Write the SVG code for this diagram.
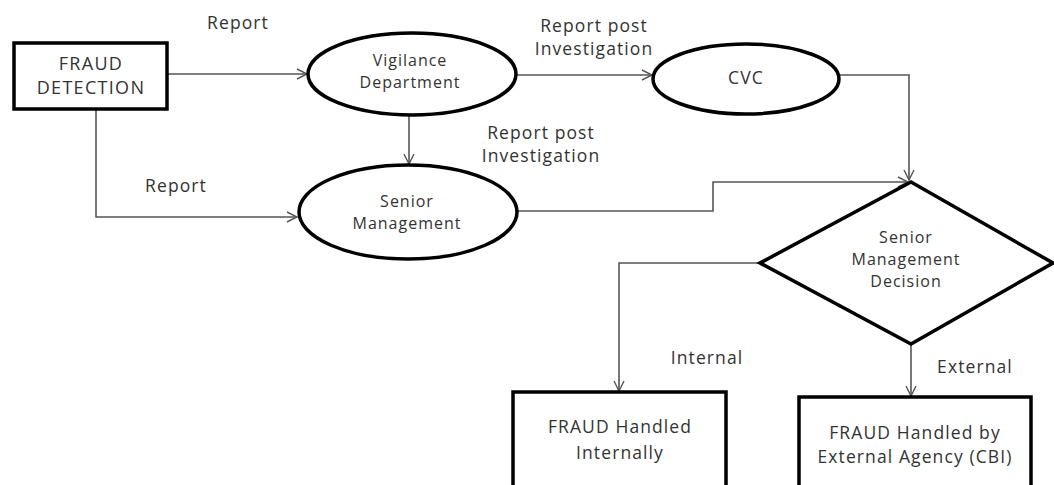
<svg xmlns="http://www.w3.org/2000/svg" width="1054" height="485" viewBox="0 0 1054 485">
<style>
.shape{fill:#fff;stroke:#000;stroke-width:3.5}
.conn{fill:none;stroke:#555;stroke-width:1.6}
text{font-family:"Open Sans","Liberation Sans",sans-serif;fill:#333;text-anchor:middle;dominant-baseline:central;font-size:17.5px;letter-spacing:1.1px}
.mid{font-size:16px;letter-spacing:1px}
.big{font-size:18px;letter-spacing:1.3px}
</style>
<defs>
<marker id="arr" viewBox="0 0 12 12" refX="11" refY="6" markerWidth="12" markerHeight="12" markerUnits="userSpaceOnUse" orient="auto">
<path d="M1,1 L11,6 L1,11" fill="none" stroke="#555" stroke-width="1.4"/>
</marker>
</defs>
<rect width="1054" height="485" fill="#fff"/>
<g id="connectors">
<path class="conn" d="M167,74 H307" marker-end="url(#arr)"/>
<path class="conn" d="M96,109 V217 H297" marker-end="url(#arr)"/>
<path class="conn" d="M517,75 H652" marker-end="url(#arr)"/>
<path class="conn" d="M409,115 V164" marker-end="url(#arr)"/>
<path class="conn" d="M840,75 H909 V180" marker-end="url(#arr)"/>
<path class="conn" d="M517,211 H713 V182 H908" marker-end="url(#arr)"/>
<path class="conn" d="M760,263 H619 V391" marker-end="url(#arr)"/>
<path class="conn" d="M911,344 V396" marker-end="url(#arr)"/>
</g>
<g id="labels">
<text x="238" y="22">Report</text>
<text x="176" y="185">Report</text>
<text x="594" y="25">Report post</text>
<text x="594" y="48">Investigation</text>
<text x="541" y="132">Report post</text>
<text x="541" y="155">Investigation</text>
<text x="707" y="357">Internal</text>
<text x="975" y="366">External</text>
</g>
<g id="fraud-detection">
<rect class="shape" x="14" y="43" width="153" height="66"/>
<text class="big" x="91" y="63">FRAUD</text>
<text class="big" x="91" y="87">DETECTION</text>
</g>
<g id="vigilance">
<ellipse class="shape" cx="412" cy="74" rx="104" ry="41"/>
<text class="mid" x="410" y="60">Vigilance</text>
<text class="mid" x="410" y="82">Department</text>
</g>
<g id="cvc">
<ellipse class="shape" cx="746" cy="79" rx="93" ry="35"/>
<text x="746" y="77">CVC</text>
</g>
<g id="senior-management">
<ellipse class="shape" cx="408" cy="212" rx="109" ry="47"/>
<text class="mid" x="407" y="201">Senior</text>
<text class="mid" x="407" y="223">Management</text>
</g>
<g id="decision">
<polygon class="shape" points="911,182 1053,263 911,344 760,263"/>
<text class="mid" x="906" y="237">Senior</text>
<text class="mid" x="906" y="259">Management</text>
<text class="mid" x="906" y="281">Decision</text>
</g>
<g id="internal">
<rect class="shape" x="513" y="392" width="213" height="110"/>
<text x="620" y="426">FRAUD Handled</text>
<text x="620" y="452">Internally</text>
</g>
<g id="external">
<rect class="shape" x="799" y="397" width="232" height="110"/>
<text x="915" y="432">FRAUD Handled by</text>
<text x="915" y="456">External Agency (CBI)</text>
</g>
</svg>
